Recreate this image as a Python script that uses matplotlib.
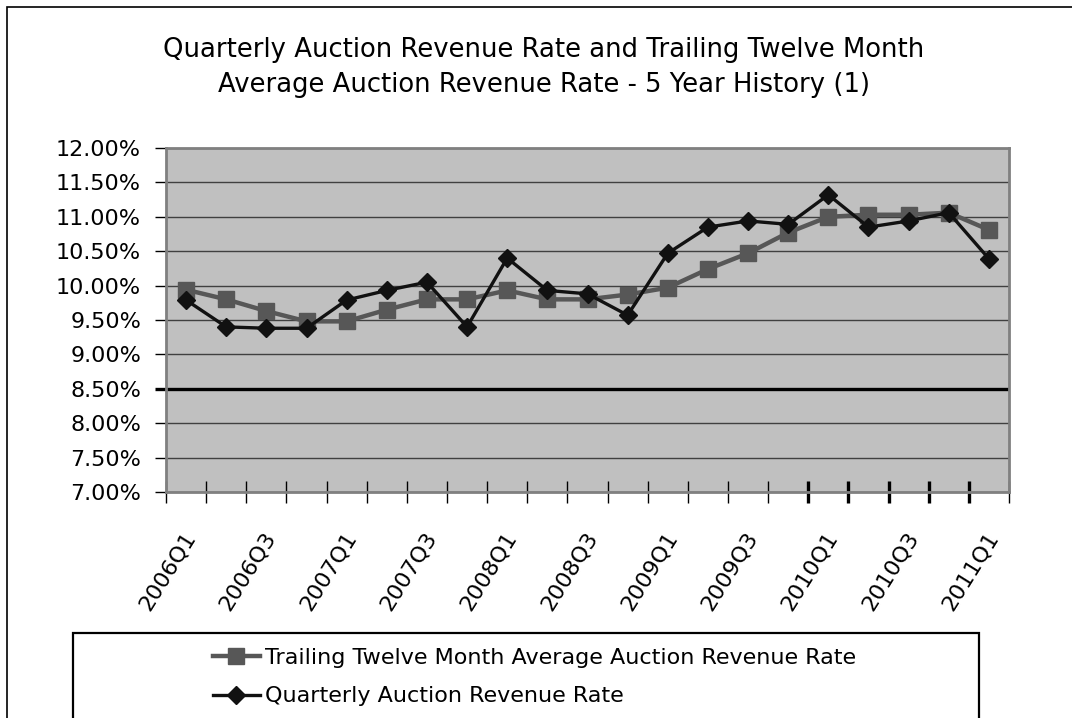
import matplotlib
matplotlib.use('Agg')
import matplotlib.pyplot as plt
from matplotlib.patches import Rectangle
from matplotlib.lines import Line2D
import matplotlib.transforms as mtransforms

# quarters 2006Q1 .. 2011Q1
quarters = ['2006Q1', '2006Q2', '2006Q3', '2006Q4',
            '2007Q1', '2007Q2', '2007Q3', '2007Q4',
            '2008Q1', '2008Q2', '2008Q3', '2008Q4',
            '2009Q1', '2009Q2', '2009Q3', '2009Q4',
            '2010Q1', '2010Q2', '2010Q3', '2010Q4',
            '2011Q1']

# rates in percent
trailing_rate = [9.94, 9.80, 9.63, 9.48, 9.48, 9.65, 9.80, 9.80, 9.93, 9.80,
                 9.80, 9.87, 9.97, 10.24, 10.47, 10.77, 11.00, 11.03, 11.03, 11.06,
                 10.81]
quarterly_rate = [9.79, 9.40, 9.38, 9.38, 9.79, 9.93, 10.05, 9.40, 10.40, 9.93,
                  9.88, 9.57, 10.47, 10.85, 10.94, 10.89, 11.32, 10.85, 10.94, 11.06,
                  10.39]

threshold = 8.50
y_ticks = [7.0, 7.5, 8.0, 8.5, 9.0, 9.5, 10.0, 10.5, 11.0, 11.5, 12.0]

title_lines = ['Quarterly Auction Revenue Rate and Trailing Twelve Month',
               'Average Auction Revenue Rate - 5 Year History (1)']
series_labels = ['Trailing Twelve Month Average Auction Revenue Rate',
                 'Quarterly Auction Revenue Rate']

W, H = 1072, 718
fig = plt.figure(figsize=(W / 100, H / 100), dpi=100)
fig.patch.set_facecolor('white')

# plot area in pixels: x 166..1009, y 148..492
ax = fig.add_axes([166 / W, 1 - 492 / H, (1009 - 166) / W, (492 - 148) / H])
ax.set_facecolor('#c0c0c0')

x = list(range(len(quarters)))
trail_color = '#575757'
ax.plot(x, trailing_rate, color=trail_color, lw=3.2, marker='s', markersize=12,
        markerfacecolor=trail_color, markeredgecolor=trail_color, zorder=3)
ax.plot(x, quarterly_rate, color='#111111', lw=2.4, marker='D', markersize=9,
        markerfacecolor='#111111', markeredgecolor='#111111', zorder=4)

ax.axhline(threshold, color='black', lw=2.4, zorder=2)

ax.set_xlim(-0.5, len(quarters) - 0.5)
ax.set_ylim(7.0, 12.0)
ax.set_yticks(y_ticks)
ax.set_yticklabels([f'{v:.2f}%' for v in y_ticks], fontsize=16)
ax.yaxis.grid(True, color='#404040', lw=1.0, zorder=1)
ax.set_axisbelow(True)
ax.tick_params(axis='y', direction='out', length=8, width=1, color='black', pad=10)

# category boundaries as x ticks, labels drawn separately
ax.set_xticks([k - 0.5 for k in range(len(quarters) + 1)])
ax.set_xticklabels([])
ax.tick_params(axis='x', direction='inout', length=16, width=1, color='black')
for k, tick in enumerate(ax.xaxis.get_major_ticks()):
    if 16 <= k <= 20:
        tick.tick1line.set_markeredgewidth(2.4)
for v, tick in zip(y_ticks, ax.yaxis.get_major_ticks()):
    if v == threshold:
        tick.tick1line.set_markeredgewidth(2.4)

for sp in ax.spines.values():
    sp.set_color('#808080')
    sp.set_linewidth(2)

trans = mtransforms.blended_transform_factory(ax.transData, ax.transAxes)
offset = mtransforms.ScaledTranslation(5 / 100, 0, fig.dpi_scale_trans)
for i in range(0, len(quarters), 2):
    ax.text(i, -0.12, quarters[i], transform=trans + offset, rotation=58,
            ha='right', va='center', rotation_mode='anchor', fontsize=16)

# title
fig.text(544 / W, 1 - 57 / H, title_lines[0], ha='center', va='baseline', fontsize=18.6)
fig.text(544 / W, 1 - 92 / H, title_lines[1], ha='center', va='baseline', fontsize=18.6)

# outer chart border (runs off the right and bottom edges)
fig.patches.append(Rectangle((7 / W, -0.1), 1.2, 1 - 7 / H + 0.1, transform=fig.transFigure,
                             fill=False, edgecolor='black', lw=1.2, clip_on=False))
# legend frame (runs off the bottom edge)
fig.patches.append(Rectangle((73 / W, -0.1), (979 - 73) / W, 1 - 633 / H + 0.1,
                             transform=fig.transFigure, fill=False, edgecolor='black',
                             lw=1.6, clip_on=False))

handles = [Line2D([], [], color=trail_color, lw=3.2, marker='s', markersize=12),
           Line2D([], [], color='#111111', lw=2.4, marker='D', markersize=9)]
fig.legend(handles, series_labels, loc='center left',
           bbox_to_anchor=(213 / W, 1 - 677 / H), frameon=False, fontsize=16,
           handlelength=2.1, handletextpad=0.22, labelspacing=0.85, borderpad=0,
           borderaxespad=0)

fig.savefig('out.png', dpi=100)
